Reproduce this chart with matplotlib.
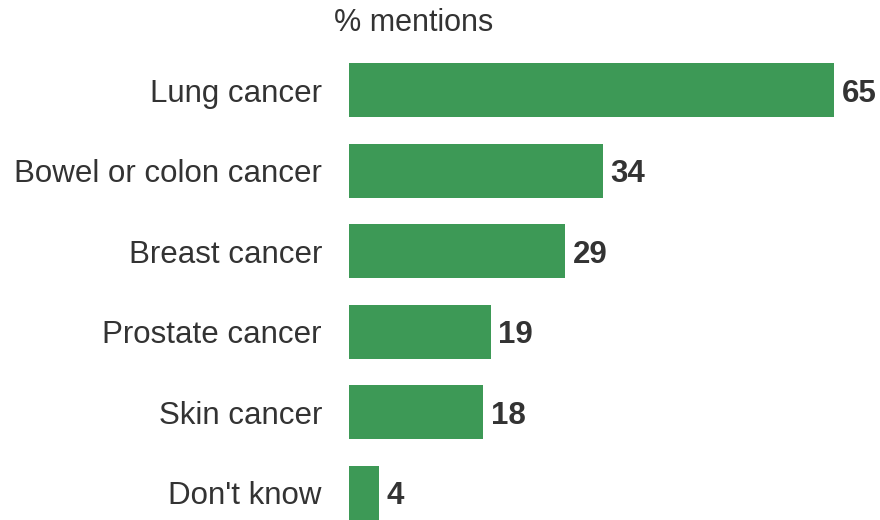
import matplotlib
matplotlib.use('Agg')
import matplotlib.pyplot as plt

categories = ['Lung cancer', 'Bowel or colon cancer', 'Breast cancer',
              'Prostate cancer', 'Skin cancer', "Don't know"]
values = [65, 34, 29, 19, 18, 4]

plt.rcParams['font.family'] = ['Liberation Sans', 'DejaVu Sans']

bar_color = '#3d9956'
text_color = '#333333'

fig = plt.figure(figsize=(8.8, 5.2), dpi=100)
ax = fig.add_axes([349 / 880, 0.0, 485 / 880, 1 - 63 / 520])

pos = list(range(len(categories)))
ax.barh(pos, values, height=0.67, color=bar_color)
ax.set_xlim(0, 65)
ax.set_ylim(len(categories) - 1 + 0.335, -0.335)

# value labels at the bar ends
for p, v in zip(pos, values):
    ax.text(v + 1.0, p, str(v), va='center_baseline', ha='left', fontsize=22.5,
            fontweight='bold', color=text_color)

ax.set_yticks(pos)
ax.set_yticklabels(categories, fontsize=22.5, color=text_color)
ax.tick_params(axis='y', length=0, pad=19.5)
ax.set_xticks([])
for s in ax.spines.values():
    s.set_visible(False)

fig.text(414 / 880, 1 - 23 / 520, '% mentions', ha='center', va='center',
         fontsize=22, color=text_color)

fig.savefig('out.png', dpi=100)
